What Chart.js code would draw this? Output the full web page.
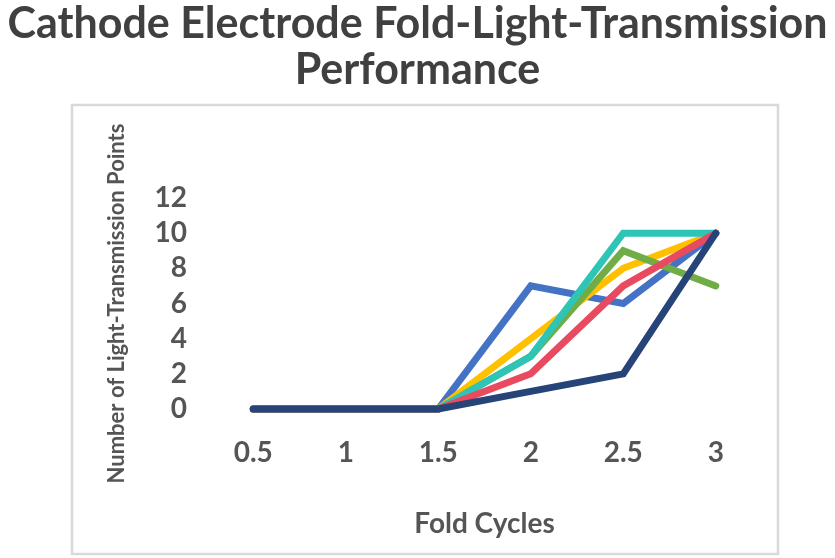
<!DOCTYPE html>
<html>
<head>
<meta charset="utf-8">
<script src="https://cdn.jsdelivr.net/npm/chart.js@4/dist/chart.umd.min.js"></script>
<style>
  html, body { margin: 0; padding: 0; background: #fff; }
  #wrap { width: 835px; height: 558px; position: relative; overflow: hidden; }
  #chartTitle {
    position: absolute; left: 0; top: -1px; width: 835px;
    text-align: center; white-space: nowrap;
    font-family: Lato, sans-serif; font-weight: bold;
    font-size: 43px; line-height: 46px; color: #404040;
    z-index: 2;
  }
  #foldChart { position: absolute; left: 0; top: 0; }
</style>
</head>
<body>
<div id="wrap">
  <div id="chartTitle">Cathode Electrode Fold-Light-Transmission<br>Performance</div>
  <canvas id="foldChart" width="835" height="558"></canvas>
</div>
<script>
// ----------- Chart Data -----------
const foldCycles = ['0.5', '1', '1.5', '2', '2.5', '3'];
const sampleA = [0, 0, 0, 7, 6, 10];
const sampleB = [0, 0, 0, 4, 8, 10];
const sampleC = [0, 0, 0, 3, 9, 7];
const sampleD = [0, 0, 0, 3, 10, 10];
const sampleE = [0, 0, 0, 2, 7, 10];
const sampleF = [0, 0, 0, 1, 2, 10];
const yTicks = [0, 2, 4, 6, 8, 10, 12];

const textColor = '#555555';

// light gray frame round the plot, like the office chart border
const frameBox = {
  id: 'frameBox',
  beforeDraw(chart) {
    const c = chart.ctx;
    c.save();
    c.strokeStyle = '#d9d9d9';
    c.lineWidth = 2.5;
    c.strokeRect(72, 105, 706, 449);
    c.restore();
  }
};

const makeLine = (label, data, color, order) => ({
  label: label,
  data: data,
  borderColor: color,
  backgroundColor: color,
  borderWidth: 7,
  borderCapStyle: 'round',
  borderJoinStyle: 'miter',
  pointRadius: 0,
  pointHoverRadius: 0,
  tension: 0,
  fill: false,
  clip: false,
  order: order
});

new Chart(document.getElementById('foldChart').getContext('2d'), {
  type: 'line',
  data: {
    labels: foldCycles,
    datasets: [
      makeLine('Sample 1', sampleA, '#4472C4', 6),
      makeLine('Sample 2', sampleB, '#FFC000', 5),
      makeLine('Sample 3', sampleC, '#70AD47', 4),
      makeLine('Sample 4', sampleD, '#2EC4B6', 3),
      makeLine('Sample 5', sampleE, '#E84A5F', 2),
      makeLine('Sample 6', sampleF, '#264478', 1)
    ]
  },
  options: {
    responsive: false,
    animation: false,
    layout: { padding: { left: 100, right: 73, top: 198, bottom: 9 } },
    plugins: {
      legend: { display: false },
      tooltip: { enabled: false },
      title: { display: false }
    },
    scales: {
      x: {
        offset: true,
        grid: { display: false, drawTicks: false },
        border: { display: false },
        ticks: {
          color: textColor,
          autoSkip: false,
          maxRotation: 0,
          padding: 27,
          font: { family: 'Lato', size: 28, weight: 'bold' }
        },
        title: {
          display: true,
          text: 'Fold Cycles',
          color: textColor,
          font: { family: 'Lato', size: 28, weight: 'bold' },
          padding: { top: 4, bottom: 8 }
        },
        afterFit: (scale) => { scale.height = 140; }
      },
      y: {
        min: 0,
        max: 12,
        grid: { display: false, drawTicks: false },
        border: { display: false },
        afterBuildTicks: (scale) => { scale.ticks = yTicks.map(v => ({ value: v })); },
        ticks: {
          color: textColor,
          autoSkip: false,
          padding: 20,
          font: { family: 'Lato', size: 28, weight: 'bold' }
        },
        title: {
          display: true,
          text: 'Number of Light-Transmission Points',
          color: textColor,
          font: { family: 'Lato', size: 22, weight: 'bold' }
        },
        afterFit: (scale) => { scale.width = 107; }
      }
    }
  },
  plugins: [frameBox]
});
</script>
</body>
</html>
